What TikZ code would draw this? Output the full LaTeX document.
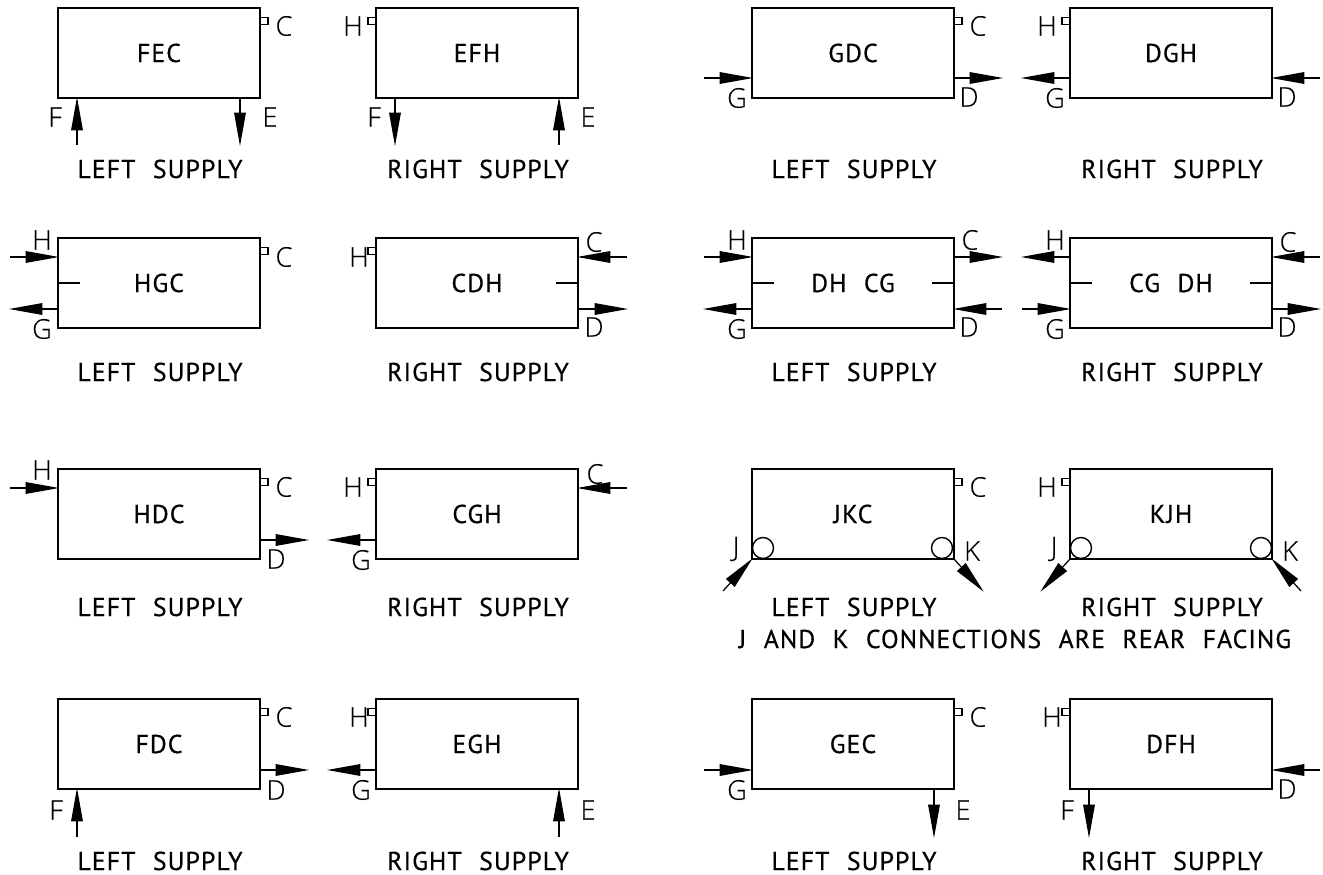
\documentclass[tikz,border=0pt]{standalone}
\usepackage{fontspec}
\setmainfont{PT Sans}[WordSpace=2.2,LetterSpace=4,FakeBold=0.5]
\newfontfamily\portfont{Open Sans Light}[FakeBold=0.3]
\usetikzlibrary{arrows.meta, positioning}

\tikzset{
	unit/.style={draw, line width=0.9pt, minimum width=4.04cm, minimum height=1.8cm, outer sep=0pt, inner sep=0pt, font=\fontsize{14.7}{15}\selectfont},
	stub/.style={draw, line width=0.7pt, minimum width=0.16cm, minimum height=0.14cm, inner sep=0pt, outer sep=0pt},
	port/.style={inner sep=0pt, font=\portfont\fontsize{15.5}{16}\selectfont},
	supply/.style={inner sep=0pt, font=\fontsize{14.7}{15}\selectfont},
	rear/.style={draw, circle, line width=0.8pt, minimum size=0.42cm, inner sep=0pt, outer sep=0pt},
}

\begin{document}
\begin{tikzpicture}[x=0.02cm, y=-0.02cm,
					->,
					>={Triangle[length=19pt, width=6.6pt]},
					shorten >=-0.6pt,
					line width=0.7pt]

	\useasboundingbox (0,0) rectangle (1323,875);

	% first row
	\node[unit] (fec) at (159,53)  {FEC};
	\node[unit] (efh) at (477,53)  {EFH};
	\node[unit] (gdc) at (853,53)  {GDC};
	\node[unit] (dgh) at (1171,53) {DGH};

	\node[stub] (fecS) at (264,21)  {};
	\node[stub] (efhS) at (372,21)  {};
	\node[stub] (gdcS) at (958,21)  {};
	\node[stub] (dghS) at (1066,21) {};

	\coordinate (fecF) at (77,145);
	\coordinate (fecE) at (240,145);
	\coordinate (efhF) at (395,145);
	\coordinate (efhE) at (559,145);
	\coordinate (gdcG) at (704,78);
	\coordinate (gdcD) at (1002,78);
	\coordinate (dghG) at (1022,78);
	\coordinate (dghD) at (1320,78);

	\draw (fecF) -- (fecF |- fec.south);
	\draw (fecE |- fec.south) -- (fecE);
	\draw (efhF |- efh.south) -- (efhF);
	\draw (efhE) -- (efhE |- efh.south);
	\draw (gdcG) -- (gdcG -| gdc.west);
	\draw (gdcD -| gdc.east) -- (gdcD);
	\draw (dghG -| dgh.west) -- (dghG);
	\draw (dghD) -- (dghD -| dgh.east);

	\node[port] (l1) at (284,26)  {C};
	\node[port] (l2) at (55,117)  {F};
	\node[port] (l3) at (270,117) {E};
	\node[port] (l4) at (353,26)  {H};
	\node[port] (l5) at (374,117) {F};
	\node[port] (l6) at (588,117) {E};
	\node[port] (l7) at (978,26)  {C};
	\node[port] (l8) at (737,98)  {G};
	\node[port] (l9) at (969,97)  {D};
	\node[port] (l10) at (1047,26) {H};
	\node[port] (l11) at (1055,98) {G};
	\node[port] (l12) at (1287,97) {D};

	\node[supply] (s1) at (160,169)  {LEFT SUPPLY};
	\node[supply] (s2) at (478,169)  {RIGHT SUPPLY};
	\node[supply] (s3) at (854,169)  {LEFT SUPPLY};
	\node[supply] (s4) at (1172,169) {RIGHT SUPPLY};

	% second row
	\node[unit] (hgc) at (159,283)  {HGC};
	\node[unit] (cdh) at (477,283)  {CDH};
	\node[unit] (dhcg) at (853,283) {DH CG};
	\node[unit] (cgdh) at (1171,283) {CG DH};

	\node[stub] (hgcS) at (264,251) {};
	\node[stub] (cdhS) at (372,251) {};

	\coordinate (hgcH) at (10,257);
	\coordinate (hgcG) at (10,309);
	\coordinate (cdhC) at (627,257);
	\coordinate (cdhD) at (627,309);
	\coordinate (dhcgH) at (704,257);
	\coordinate (dhcgG) at (704,309);
	\coordinate (dhcgC) at (1002,257);
	\coordinate (dhcgD) at (1002,309);
	\coordinate (cgdhH) at (1022,257);
	\coordinate (cgdhG) at (1022,309);
	\coordinate (cgdhC) at (1320,257);
	\coordinate (cgdhD) at (1320,309);

	\draw (hgcH) -- (hgcH -| hgc.west);
	\draw (hgcG -| hgc.west) -- (hgcG);
	\draw (cdhC) -- (cdhC -| cdh.east);
	\draw (cdhD -| cdh.east) -- (cdhD);
	\draw (dhcgH) -- (dhcgH -| dhcg.west);
	\draw (dhcgG -| dhcg.west) -- (dhcgG);
	\draw (dhcgC -| dhcg.east) -- (dhcgC);
	\draw (dhcgD) -- (dhcgD -| dhcg.east);
	\draw (cgdhH -| cgdh.west) -- (cgdhH);
	\draw (cgdhG) -- (cgdhG -| cgdh.west);
	\draw (cgdhC) -- (cgdhC -| cgdh.east);
	\draw (cgdhD -| cgdh.east) -- (cgdhD);

	\draw[-] (hgc.west) -- ++(21,0);
	\draw[-] (cdh.east) -- ++(-21,0);
	\draw[-] (dhcg.west) -- ++(21,0);
	\draw[-] (dhcg.east) -- ++(-21,0);
	\draw[-] (cgdh.west) -- ++(21,0);
	\draw[-] (cgdh.east) -- ++(-21,0);

	\node[port] (l13) at (42,240)  {H};
	\node[port] (l14) at (42,329)  {G};
	\node[port] (l15) at (284,257) {C};
	\node[port] (l16) at (359,257) {H};
	\node[port] (l17) at (594,242) {C};
	\node[port] (l18) at (594,327) {D};
	\node[port] (l19) at (737,240) {H};
	\node[port] (l20) at (737,329) {G};
	\node[port] (l21) at (970,240) {C};
	\node[port] (l22) at (969,327) {D};
	\node[port] (l23) at (1055,240) {H};
	\node[port] (l24) at (1055,329) {G};
	\node[port] (l25) at (1288,242) {C};
	\node[port] (l26) at (1287,327) {D};

	\node[supply] (s5) at (160,372)  {LEFT SUPPLY};
	\node[supply] (s6) at (478,372)  {RIGHT SUPPLY};
	\node[supply] (s7) at (854,372)  {LEFT SUPPLY};
	\node[supply] (s8) at (1172,372) {RIGHT SUPPLY};

	% third row
	\node[unit] (hdc) at (159,514)  {HDC};
	\node[unit] (cgh) at (477,514)  {CGH};
	\node[unit] (jkc) at (853,514)  {JKC};
	\node[unit] (kjh) at (1171,514) {KJH};

	\node[stub] (hdcS) at (264,482)  {};
	\node[stub] (cghS) at (372,482)  {};
	\node[stub] (jkcS) at (958,482)  {};
	\node[stub] (kjhS) at (1066,482) {};

	\node[rear] (jkcJ) at (763,548)  {};
	\node[rear] (jkcK) at (942,548)  {};
	\node[rear] (kjhJ) at (1081,548) {};
	\node[rear] (kjhK) at (1261,548) {};

	\coordinate (hdcH) at (10,488);
	\coordinate (hdcD) at (308,540);
	\coordinate (cghC) at (627,488);
	\coordinate (cghG) at (328,540);
	\coordinate (jkcA) at (723,591);
	\coordinate (jkcB) at (983,591);
	\coordinate (kjhA) at (1041,591);
	\coordinate (kjhB) at (1301,591);

	\draw (hdcH) -- (hdcH -| hdc.west);
	\draw (hdcD -| hdc.east) -- (hdcD);
	\draw (cghC) -- (cghC -| cgh.east);
	\draw (cghG -| cgh.west) -- (cghG);
	\draw (jkcA) -- (jkc.south west);
	\draw (jkc.south east) -- (jkcB);
	\draw (kjh.south west) -- (kjhA);
	\draw (kjhB) -- (kjh.south east);

	\node[port] (l27) at (42,470)   {H};
	\node[port] (l28) at (284,487)  {C};
	\node[port] (l29) at (276,559)  {D};
	\node[port] (l30) at (353,487)  {H};
	\node[port] (l31) at (595,474)  {C};
	\node[port] (l32) at (361,560)  {G};
	\node[port] (l33) at (978,487)  {C};
	\node[port] (l34) at (736,549)  {J};
	\node[port] (l35) at (972,551)  {K};
	\node[port] (l36) at (1047,487) {H};
	\node[port] (l37) at (1054,549) {J};
	\node[port] (l38) at (1290,551) {K};

	\node[supply] (s9) at (160,607)   {LEFT SUPPLY};
	\node[supply] (s10) at (478,607)  {RIGHT SUPPLY};
	\node[supply] (s11) at (854,607)  {LEFT SUPPLY};
	\node[supply] (s12) at (1172,607) {RIGHT SUPPLY};
	\node[supply] (s13) at (1015,639) {J AND K CONNECTIONS ARE REAR FACING};

	% last row
	\node[unit] (fdc) at (159,744)  {FDC};
	\node[unit] (egh) at (477,744)  {EGH};
	\node[unit] (gec) at (853,744)  {GEC};
	\node[unit] (dfh) at (1171,744) {DFH};

	\node[stub] (fdcS) at (264,712)  {};
	\node[stub] (eghS) at (372,712)  {};
	\node[stub] (gecS) at (958,712)  {};
	\node[stub] (dfhS) at (1066,712) {};

	\coordinate (fdcD) at (308,770);
	\coordinate (fdcF) at (77,837);
	\coordinate (eghG) at (328,770);
	\coordinate (eghE) at (559,837);
	\coordinate (gecG) at (704,770);
	\coordinate (gecE) at (934,837);
	\coordinate (dfhD) at (1320,770);
	\coordinate (dfhF) at (1089,837);

	\draw (fdcD -| fdc.east) -- (fdcD);
	\draw (fdcF) -- (fdcF |- fdc.south);
	\draw (eghG -| egh.west) -- (eghG);
	\draw (eghE) -- (eghE |- egh.south);
	\draw (gecG) -- (gecG -| gec.west);
	\draw (gecE |- gec.south) -- (gecE);
	\draw (dfhD) -- (dfhD -| dfh.east);
	\draw (dfhF |- dfh.south) -- (dfhF);

	\node[port] (l39) at (284,717)  {C};
	\node[port] (l40) at (276,790)  {D};
	\node[port] (l41) at (56,810)   {F};
	\node[port] (l42) at (359,717)  {H};
	\node[port] (l43) at (361,790)  {G};
	\node[port] (l44) at (588,810)  {E};
	\node[port] (l45) at (978,717)  {C};
	\node[port] (l46) at (737,790)  {G};
	\node[port] (l47) at (963,810)  {E};
	\node[port] (l48) at (1052,717) {H};
	\node[port] (l49) at (1287,789) {D};
	\node[port] (l50) at (1067,810) {F};

	\node[supply] (s14) at (160,861)  {LEFT SUPPLY};
	\node[supply] (s15) at (478,861)  {RIGHT SUPPLY};
	\node[supply] (s16) at (854,861)  {LEFT SUPPLY};
	\node[supply] (s17) at (1172,861) {RIGHT SUPPLY};
\end{tikzpicture}
\end{document}
